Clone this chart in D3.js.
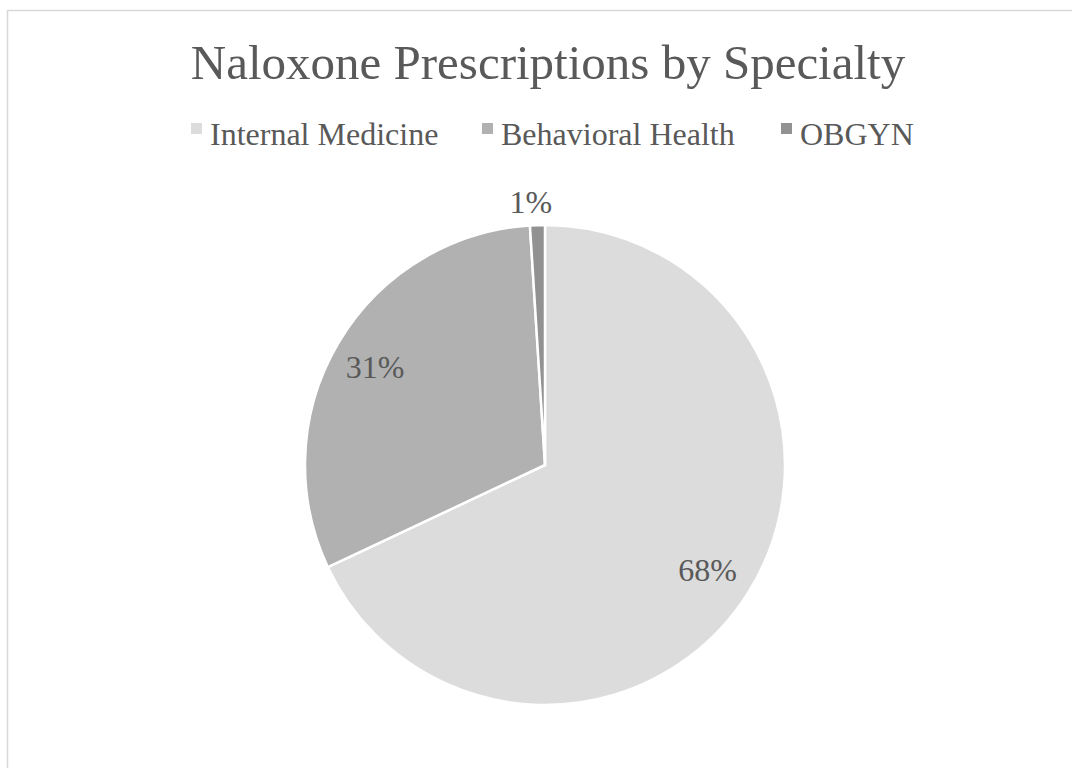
<!DOCTYPE html>
<html>
<head>
<meta charset="utf-8">
<script src="https://cdn.jsdelivr.net/npm/d3@7"></script>
<style>
  html, body { margin: 0; padding: 0; background: #ffffff; }
  svg { display: block; }
  text { font-family: "Liberation Serif", "Times New Roman", serif; fill: #595959; }
</style>
</head>
<body>
<svg id="chart" width="1072" height="768"></svg>
<script>
// Share of naloxone prescriptions by prescriber specialty
const specialties = ["Internal Medicine", "Behavioral Health", "OBGYN"];
const shares = [68, 31, 1];
const sliceColors = ["#dcdcdc", "#b1b1b1", "#929292"];

const width = 1072, height = 768;
const svg = d3.select("#chart");

// chart frame
svg.append("rect")
  .attr("x", 7.5).attr("y", 10.5)
  .attr("width", width + 10).attr("height", height + 10)
  .attr("fill", "#ffffff")
  .attr("stroke", "#d9d9d9").attr("stroke-width", 1.5);

// title
svg.append("text")
  .attr("x", 548).attr("y", 79)
  .attr("text-anchor", "middle")
  .style("font-size", "49px")
  .text("Naloxone Prescriptions by Specialty");

// legend
const color = d3.scaleOrdinal().domain(specialties).range(sliceColors);
const legend = svg.append("g").attr("transform", "translate(0,145)");
const legendX = [191, 482, 781];
specialties.forEach((name, i) => {
  const g = legend.append("g").attr("transform", `translate(${legendX[i]},0)`);
  g.append("rect").attr("x", 0).attr("y", -22).attr("width", 11).attr("height", 11)
    .attr("fill", color(name));
  g.append("text").attr("x", 19).attr("y", 0)
    .style("font-size", "32px")
    .text(name);
});

// pie
const cx = 545, cy = 465, radius = 240;
const labelRadius = 195;
const pie = d3.pie().sort(null).value(d => d.value);
const arcs = pie(specialties.map((name, i) => ({ name, value: shares[i] })));
const arc = d3.arc().innerRadius(0).outerRadius(radius);
const labelArc = d3.arc().innerRadius(labelRadius).outerRadius(labelRadius);

const pieG = svg.append("g").attr("transform", `translate(${cx},${cy})`);
pieG.selectAll("path")
  .data(arcs)
  .join("path")
  .attr("d", arc)
  .attr("fill", d => color(d.data.name))
  .attr("stroke", "#ffffff")
  .attr("stroke-width", 2.5)
  .attr("stroke-linejoin", "round");

// percentage labels; the thin slice gets its label outside the rim
const total = d3.sum(shares);
pieG.selectAll("text.pct")
  .data(arcs)
  .join("text")
  .attr("class", "pct")
  .attr("text-anchor", "middle")
  .style("font-size", "32px")
  .attr("transform", d => {
    if (d.value / total < 0.05) {
      const a = (d.startAngle + d.endAngle) / 2;
      const r = radius + 24;
      return `translate(${Math.sin(a) * r - 6},${-Math.cos(a) * r + 12})`;
    }
    const [x, y] = labelArc.centroid(d);
    return `translate(${x - 2},${y + 12})`;
  })
  .text(d => Math.round(d.value / total * 100) + "%");
</script>
</body>
</html>
